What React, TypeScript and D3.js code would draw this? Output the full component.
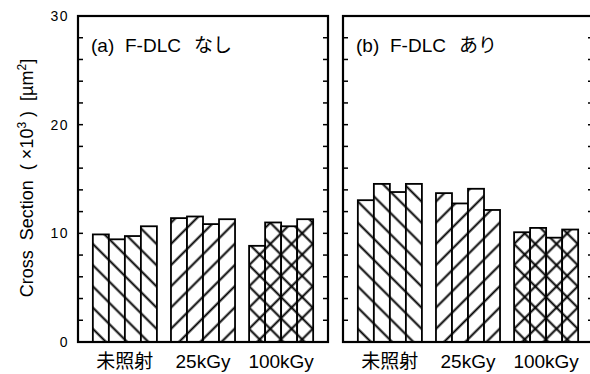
import React, { useEffect, useRef } from 'react';
import * as d3 from 'd3';

// irradiation conditions (x categories)
const conditions = ['未照射', '25kGy', '100kGy'];
// four specimens per condition, cross section (x10^3 um^2)
const valuesA = [
  [9.9, 9.45, 9.75, 10.65],
  [11.4, 11.55, 10.85, 11.3],
  [8.85, 11.0, 10.65, 11.3],
];
const valuesB = [
  [13.05, 14.55, 13.8, 14.55],
  [13.7, 12.75, 14.1, 12.15],
  [10.1, 10.5, 9.6, 10.35],
];
const panelLetters = ['(a)', '(b)'];
const panelFilms = ['なし', 'あり'];
const majorTicks = [0, 10, 20, 30];
const patternIds = ['hatchBack', 'hatchFwd', 'hatchCross'];

const App = () => {
  const svgRef = useRef<SVGSVGElement>(null);

  useEffect(() => {
    const svg = d3.select(svgRef.current);
    svg.selectAll('*').remove();

    const width = 590;
    const height = 374;
    const top = 16;
    const bottom = 342;
    const panelW = 250;
    const panelX = [78, 343];
    const font = '"Liberation Sans", Arial, "Noto Sans CJK JP", sans-serif';

    svg.attr('width', width).attr('height', height);

    // hatch patterns
    const defs = svg.append('defs');
    const addLines = (id: string, angle: number, cross: boolean) => {
      const p = defs.append('pattern')
        .attr('id', id)
        .attr('patternUnits', 'userSpaceOnUse')
        .attr('width', 15)
        .attr('height', 15)
        .attr('patternTransform', `rotate(${angle})`);
      p.append('rect').attr('width', 15).attr('height', 15).attr('fill', 'white');
      p.append('line')
        .attr('x1', 7.5).attr('x2', 7.5).attr('y1', -1).attr('y2', 16)
        .attr('stroke', 'black').attr('stroke-width', 2);
      if (cross) {
        p.append('line')
          .attr('y1', 7.5).attr('y2', 7.5).attr('x1', -1).attr('x2', 16)
          .attr('stroke', 'black').attr('stroke-width', 2);
      }
    };
    addLines('hatchBack', -45, false);
    addLines('hatchFwd', 45, false);
    addLines('hatchCross', 45, true);

    const y = d3.scaleLinear().domain([0, 30]).range([bottom, top]);
    const minor = d3.range(0, 31, 2);

    [valuesA, valuesB].forEach((data, pi) => {
      const x0 = panelX[pi];
      const g = svg.append('g').attr('transform', `translate(${x0},0)`);

      const xBand = d3.scaleBand()
        .domain(conditions)
        .range([0, panelW])
        .paddingInner(0.18)
        .paddingOuter(0.19);
      const xSub = d3.scaleBand()
        .domain(d3.range(4).map(String))
        .range([0, xBand.bandwidth()]);

      // bars
      conditions.forEach((c, ci) => {
        g.append('g')
          .attr('transform', `translate(${xBand(c)},0)`)
          .selectAll('rect')
          .data(data[ci])
          .enter()
          .append('rect')
          .attr('x', (d, i) => xSub(String(i)) as number)
          .attr('y', d => y(d))
          .attr('width', xSub.bandwidth())
          .attr('height', d => bottom - y(d))
          .attr('fill', `url(#${patternIds[ci]})`)
          .attr('stroke', 'black')
          .attr('stroke-width', 1.8);
      });

      // frame
      g.append('rect')
        .attr('x', 0).attr('y', top)
        .attr('width', panelW).attr('height', bottom - top)
        .attr('fill', 'none')
        .attr('stroke', 'black')
        .attr('stroke-width', 2.2);

      // ticks inward on both sides
      g.selectAll('.tl')
        .data(minor)
        .enter().append('line')
        .attr('x1', 0).attr('x2', 5)
        .attr('y1', d => y(d)).attr('y2', d => y(d))
        .attr('stroke', 'black').attr('stroke-width', 1.5);
      g.selectAll('.tr')
        .data(minor)
        .enter().append('line')
        .attr('x1', panelW).attr('x2', panelW - 5)
        .attr('y1', d => y(d)).attr('y2', d => y(d))
        .attr('stroke', 'black').attr('stroke-width', 1.5);

      // panel title
      const t = g.append('text')
        .attr('y', 52)
        .style('font-family', font)
        .style('font-size', '19px');
      t.append('tspan').attr('x', 13).text(panelLetters[pi]);
      t.append('tspan').attr('x', 47).text('F-DLC');
      t.append('tspan').attr('x', 116).text(panelFilms[pi]);

      // category labels
      g.selectAll('.cat')
        .data(conditions)
        .enter().append('text')
        .attr('x', d => (xBand(d) as number) + xBand.bandwidth() / 2)
        .attr('y', 368)
        .attr('text-anchor', 'middle')
        .style('font-family', font)
        .style('font-size', '19px')
        .text(d => d);
    });

    // y tick labels
    svg.selectAll('.yl')
      .data(majorTicks)
      .enter().append('text')
      .attr('x', 69)
      .attr('y', d => y(d) + 5)
      .attr('text-anchor', 'end')
      .style('font-family', font)
      .style('font-size', '14px')
      .style('letter-spacing', '1.5px')
      .text(d => d);

    // y axis title
    const yt = svg.append('text')
      .attr('transform', `translate(33,${178}) rotate(-90)`)
      .attr('text-anchor', 'middle')
      .style('font-family', font)
      .style('font-size', '18px')
      .style('white-space', 'pre');
    yt.append('tspan').text('Cross  Section  ( ×10');
    yt.append('tspan').attr('dy', -7).style('font-size', '12px').text('3');
    yt.append('tspan').attr('dy', 7).text(' )  [µm');
    yt.append('tspan').attr('dy', -7).style('font-size', '12px').text('2');
    yt.append('tspan').attr('dy', 7).text(']');
  }, []);

  return (
    <svg ref={svgRef} style={{ position: 'absolute', left: 0, top: 0, background: 'white' }}></svg>
  );
};

export default App;
